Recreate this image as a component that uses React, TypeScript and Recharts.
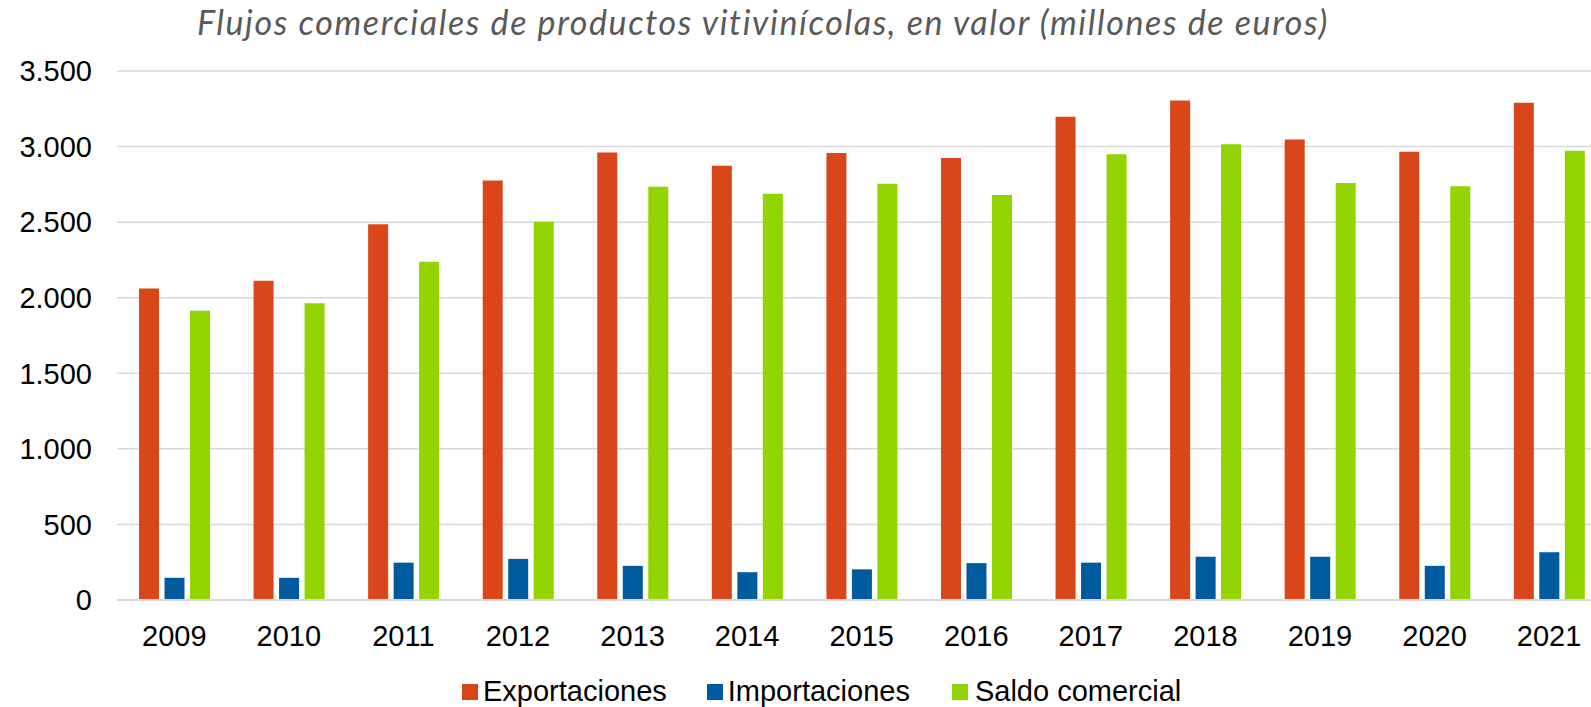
import React from "react";
import { BarChart, Bar, XAxis, YAxis, CartesianGrid, Legend } from "recharts";

const years = ["2009", "2010", "2011", "2012", "2013", "2014", "2015", "2016", "2017", "2018", "2019", "2020", "2021"];
const exportaciones = [2061, 2112, 2486, 2776, 2961, 2873, 2958, 2924, 3198, 3304, 3046, 2965, 3290];
const importaciones = [147, 147, 247, 272, 226, 184, 203, 244, 247, 286, 286, 226, 316];
const saldo = [1913, 1964, 2238, 2502, 2734, 2688, 2754, 2680, 2949, 3016, 2759, 2738, 2973];
const yTicks = [0, 500, 1000, 1500, 2000, 2500, 3000, 3500];
const seriesNames = ["Exportaciones", "Importaciones", "Saldo comercial"];
const colors = ["#D9461A", "#005A9E", "#91D400"];
const title = "Flujos comerciales de productos vitivinícolas, en valor (millones de euros)";

const data = years.map((y, i) => ({
  year: y,
  exp: exportaciones[i],
  imp: importaciones[i],
  sal: saldo[i],
}));

const fmt = (n: number) => {
  if (n < 1000) return String(n);
  const th = Math.floor(n / 1000);
  const rest = String(n % 1000).padStart(3, "0");
  return `${th}.${rest}`;
};

const FONT = '"Liberation Sans", Arial, sans-serif';

const LegendContent = () => (
  <div style={{ display: "flex", justifyContent: "flex-start", alignItems: "center", fontFamily: FONT, fontSize: 29, color: "#000", whiteSpace: "nowrap" }}>
    {seriesNames.map((n, i) => (
      <div key={n} style={{ display: "flex", alignItems: "center", marginLeft: i === 0 ? 462 : i === 1 ? 40 : 42 }}>
        <span style={{ display: "inline-block", width: 16, height: 16, background: colors[i], marginRight: i === 2 ? 7 : 5 }} />
        <span>{n}</span>
      </div>
    ))}
  </div>
);

export default function App() {
  return (
    <div style={{ position: "absolute", left: 0, top: 0, width: 1591, height: 707, overflow: "hidden", background: "#fff" }}>
      <div
        style={{
          position: "absolute",
          left: 95,
          top: 2,
          width: 1336,
          textAlign: "center",
          fontFamily: "Lato, 'Noto Sans', sans-serif",
          fontStyle: "italic",
          fontSize: 34,
          letterSpacing: 1.6,
          lineHeight: "40px",
          color: "#595959",
          whiteSpace: "nowrap",
        }}
      >
        {title}
      </div>
      <BarChart
        width={1620}
        height={707}
        data={data}
        margin={{ top: 71, right: 13.6, left: 0, bottom: 47 }}
        barSize={20}
        barGap={5.5}
      >
        <CartesianGrid vertical={false} stroke="#D9D9D9" strokeWidth={1.5} />
        <XAxis
          dataKey="year"
          height={60}
          tickLine={false}
          tickSize={0}
          tickMargin={25}
          axisLine={{ stroke: "#D9D9D9", strokeWidth: 2 }}
          tick={{ fill: "#000", fontSize: 29, fontFamily: FONT }}
          interval={0}
        />
        <YAxis
          width={117}
          domain={[0, 3500]}
          ticks={yTicks}
          tickFormatter={fmt}
          tickLine={false}
          tickSize={0}
          tickMargin={25}
          axisLine={false}
          tick={{ fill: "#000", fontSize: 29, fontFamily: FONT }}
          interval={0}
        />
        <Legend
          verticalAlign="middle"
          layout="horizontal"
          content={LegendContent}
          wrapperStyle={{ position: "absolute", top: 675, left: 0, width: 1591, height: 34 }}
        />
        <Bar dataKey="exp" name={seriesNames[0]} fill={colors[0]} isAnimationActive={false} />
        <Bar dataKey="imp" name={seriesNames[1]} fill={colors[1]} isAnimationActive={false} />
        <Bar dataKey="sal" name={seriesNames[2]} fill={colors[2]} isAnimationActive={false} />
      </BarChart>
    </div>
  );
}
